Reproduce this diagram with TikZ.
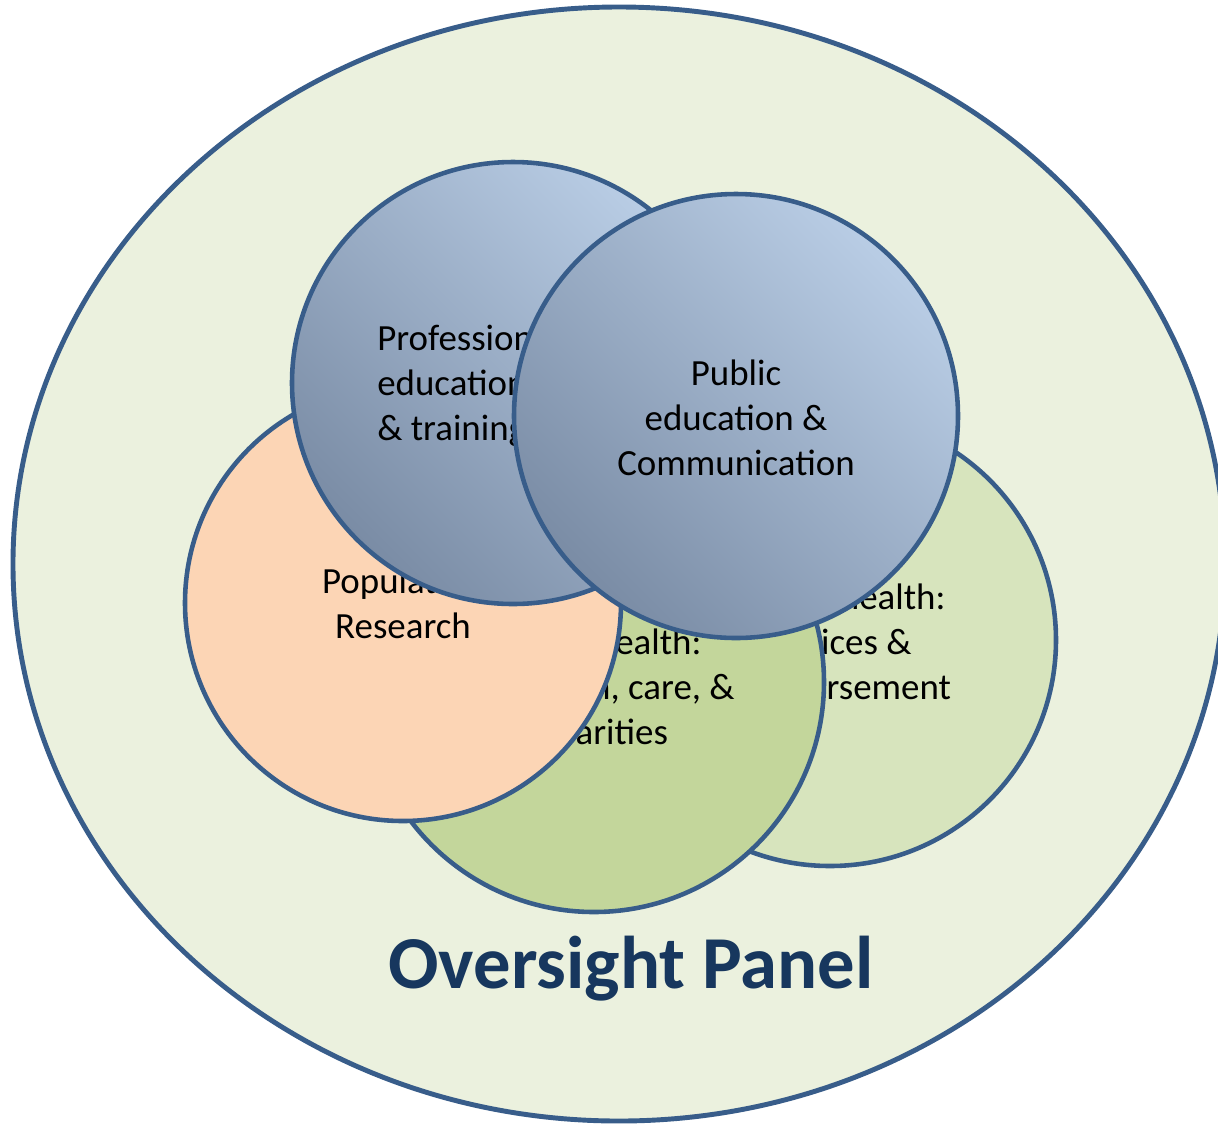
\documentclass[tikz,border=0pt]{standalone}
\usepackage{fontspec}
\setmainfont{Carlito}
\usetikzlibrary{shapes.geometric}

\definecolor{rimblue}{HTML}{385D8A}
\definecolor{panelgreen}{HTML}{EBF1DE}
\definecolor{paleleaf}{HTML}{D7E4BD}
\definecolor{leaf}{HTML}{C3D69B}
\definecolor{peach}{HTML}{FCD5B5}
\definecolor{skylight}{HTML}{B9CDE5}
\definecolor{skydark}{HTML}{7A8CA5}
\definecolor{navy}{HTML}{17375E}

\begin{document}
\begin{tikzpicture}[x=0.2mm,y=0.2mm]
    \tikzset{every node/.style={inner sep=0pt},
            area/.style={circle, draw=rimblue, line width=2.6pt},
            bluearea/.style={area, top color=skylight, bottom color=skydark, shading angle=-45},
            areatext/.style={align=center, font=\fontsize{21}{25.6}\selectfont}}
    \useasboundingbox (0,-1125) rectangle (1218,0);
    \node[ellipse, draw=rimblue, fill=panelgreen, line width=2.8pt,
          minimum width=242.4mm, minimum height=222.8mm] (panel) at (619,-564) {};
    \node[anchor=base, text=navy, font=\fontsize{42.5}{50}\selectfont\bfseries]
          (title) at (631,-988) {Oversight Panel};
    % circles from back to front, each with its text
    \node[area, fill=paleleaf, minimum size=90.4mm] (services) at (830,-640) {};
    \node[areatext] (servicestext) at (835,-642) {Mental health:\\services \&\\reimbursement};
    \node[area, fill=leaf, minimum size=92mm] (care) at (594,-682) {};
    \node[areatext] (caretext) at (591,-690) {Mental health:\\prevention, care, \&\\disparities};
    \node[area, fill=peach, minimum size=87.2mm] (research) at (403,-603) {};
    \node[areatext] (researchtext) at (403,-603) {Population\\Research};
    \node[bluearea, minimum size=88.4mm] (training) at (513,-383) {};
    \node[areatext, align=left, anchor=west] (trainingtext) at (377,-386) {Professional\\education\\\& training};
    \node[bluearea, minimum size=88.8mm] (public) at (736,-416) {};
    \node[areatext] (publictext) at (736,-418) {Public\\education \&\\Communication};
\end{tikzpicture}
\end{document}
